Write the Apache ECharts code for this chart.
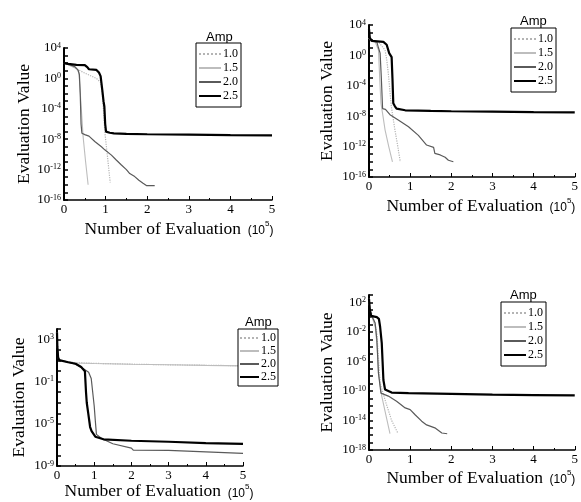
<!DOCTYPE html>
<html>
<head>
<meta charset="utf-8">
<script src="https://cdn.jsdelivr.net/npm/echarts@6/dist/echarts.min.js"></script>
<style>html,body{margin:0;padding:0;background:#fff}#c{width:581px;height:502px}</style>
</head>
<body>
<div id="c"></div>
<script>
// ---------- DATA (x in units of 10^5 evaluations, y = evaluation value) ----------
const ampNames = ['1.0', '1.5', '2.0', '2.5'];
const xTicks = [0, 1, 2, 3, 4, 5];

// Panel A (top-left)
const pA_amp10 = [[0,100],[0.22,30],[0.5,5],[0.78,1],[0.88,0.3],[0.92,1e-2],[0.96,1e-5],[0.98,1e-7],[1.04,1e-10],[1.11,2e-14]];
const pA_amp15 = [[0,100],[0.15,50],[0.3,20],[0.36,5],[0.38,4],[0.44,1e-6],[0.46,2e-8],[0.52,1e-11],[0.58,1e-14]];
const pA_amp20 = [[0,100],[0.15,60],[0.26,35],[0.34,12],[0.37,3],[0.39,1e-2],[0.41,1e-6],[0.43,6e-8],[0.5,4e-8],[0.6,2.5e-8],[0.74,5e-9],[0.9,1e-9],[0.98,4e-10],[1.14,8e-11],[1.25,2e-11],[1.38,4e-12],[1.5,1e-12],[1.58,3e-13],[1.7,1.2e-13],[1.8,4e-14],[1.9,1.6e-14],[1.98,8e-15],[2.18,8e-15]];
const pA_amp25 = [[0,100],[0.1,80],[0.3,60],[0.5,57],[0.56,30],[0.6,16],[0.78,13],[0.84,6],[0.88,2],[0.92,0.03],[0.95,1e-3],[0.97,2e-4],[0.99,1e-6],[1.01,1e-7],[1.1,7e-8],[1.2,6e-8],[1.5,5e-8],[2,4.5e-8],[3,4e-8],[4,3.5e-8],[5,3.2e-8]];

// Panel B (top-right)
const pB_amp10 = [[0,200],[0.05,80],[0.23,60],[0.39,5],[0.43,0.3],[0.47,4e-3],[0.54,2.5e-7],[0.63,1.6e-10],[0.7,1e-12],[0.76,1e-14]];
const pB_amp15 = [[0,200],[0.05,80],[0.15,60],[0.23,5],[0.26,1e-3],[0.29,5e-7],[0.34,1e-8],[0.39,1.6e-10],[0.48,1e-12],[0.57,1e-14]];
const pB_amp20 = [[0,200],[0.05,80],[0.19,60],[0.23,10],[0.27,2],[0.3,1e-3],[0.33,1e-7],[0.4,8e-8],[0.51,1.6e-8],[0.72,3e-9],[0.96,4e-10],[1.2,3e-11],[1.4,1.6e-12],[1.57,8e-13],[1.6,1.3e-13],[1.73,8e-14],[1.85,4e-14],[1.93,1.6e-14],[2.05,1e-14]];
const pB_amp25 = [[0,3000],[0.02,200],[0.07,80],[0.35,60],[0.43,25],[0.49,2],[0.55,0.6],[0.57,1e-3],[0.59,5e-7],[0.63,2e-7],[0.67,1e-7],[0.88,6e-8],[1.5,5e-8],[2,4.5e-8],[3,4e-8],[4,3.5e-8],[5,3.2e-8]];

// Panel C (bottom-left)
const pC_amp10 = [[0,5000],[0.01,200],[0.03,20],[0.06,11],[0.5,6.3],[1,5.5],[2,4.6],[3,4],[4,3.6],[5,3.3]];
const pC_amp15 = [[0,5000],[0.01,200],[0.03,20],[0.06,11],[0.5,6],[1,5.3],[2,4.5],[3,4],[4,3.5],[5,3.2]];
const pC_amp20 = [[0,5000],[0.01,200],[0.03,20],[0.06,11],[0.3,7],[0.5,4.5],[0.7,1.8],[0.85,0.8],[0.92,0.2],[0.96,1e-2],[1.0,5e-4],[1.03,2e-5],[1.06,1e-6],[1.2,4e-7],[1.5,1.3e-7],[2.0,5e-8],[2.05,3.2e-8],[3,3e-8],[4,2.2e-8],[5,1.6e-8]];
const pC_amp25 = [[0,5000],[0.01,200],[0.03,20],[0.06,11],[0.3,7],[0.5,5],[0.65,2.5],[0.7,2],[0.75,1],[0.78,1e-2],[0.8,1e-3],[0.84,1e-4],[0.89,5e-6],[0.93,2e-6],[1.03,6e-7],[1.25,3.4e-7],[2,2.5e-7],[3,2e-7],[4,1.5e-7],[5,1.25e-7]];

// Panel D (bottom-right)
const pD_amp10 = [[0,300],[0.02,10],[0.1,1.2],[0.19,8e-3],[0.27,1.2e-9],[0.39,6e-12],[0.55,1e-14],[0.7,2e-16]];
const pD_amp15 = [[0,300],[0.02,10],[0.07,1.3],[0.15,0.05],[0.2,1e-4],[0.23,2.5e-8],[0.31,2e-11],[0.4,1e-13],[0.51,1.6e-16]];
const pD_amp20 = [[0,300],[0.02,10],[0.07,1.3],[0.1,1],[0.15,0.16],[0.19,1e-3],[0.23,2.5e-8],[0.29,5e-11],[0.47,2e-11],[0.67,4e-12],[0.88,5e-13],[1.0,3e-13],[1.12,6e-14],[1.28,8e-15],[1.4,2.5e-15],[1.6,1e-15],[1.77,2e-16],[1.9,1.6e-16]];
const pD_amp25 = [[0,300],[0.02,10],[0.05,1.5],[0.19,1],[0.24,0.6],[0.27,0.05],[0.31,3e-4],[0.33,1e-6],[0.35,3e-9],[0.39,1.6e-10],[0.55,6e-11],[0.96,5e-11],[2,4e-11],[3,3.2e-11],[4,2.8e-11],[5,2.5e-11]];

// y-axis exponent ranges and labelled exponents
const pA_yExp = [-16, 4];
const pB_yExp = [-16, 4];
const pC_yExp = [-9, 4];
const pD_yExp = [-18, 3];
const pA_yLabels = [-16, -12, -8, -4, 0, 4];
const pB_yLabels = [-16, -12, -8, -4, 0, 4];
const pC_yLabels = [-9, -5, -1, 3];
const pD_yLabels = [-18, -14, -10, -6, -2, 2];

// ---------- LAYOUT / STYLE ----------
const SERIF = '"Liberation Serif", "Times New Roman", serif';
const SANS = '"Liberation Sans", Arial, sans-serif';
const panels = [
  {grid:{left:64, top:48, width:208, height:152}, yExp:pA_yExp, yLab:pA_yLabels, data:[pA_amp10,pA_amp15,pA_amp20,pA_amp25],
   legend:{left:196, top:43}, amp:[218, 31], xName:{gap:20, shift:22}, yGap:31},
  {grid:{left:369, top:25, width:208, height:152}, yExp:pB_yExp, yLab:pB_yLabels, data:[pB_amp10,pB_amp15,pB_amp20,pB_amp25],
   legend:{left:511, top:28}, amp:[532, 15], xName:{gap:20, shift:18}, yGap:33},
  {grid:{left:57, top:329, width:186, height:137}, yExp:pC_yExp, yLab:pC_yLabels, data:[pC_amp10,pC_amp15,pC_amp20,pC_amp25],
   legend:{left:238, top:329, small:true}, amp:[257, 316], xName:{gap:13, shift:18}, yGap:29},
  {grid:{left:369, top:295, width:208, height:155}, yExp:pD_yExp, yLab:pD_yLabels, data:[pD_amp10,pD_amp15,pD_amp20,pD_amp25],
   legend:{left:501, top:302}, amp:[522, 289], xName:{gap:19, shift:18}, yGap:33}
];
const seriesStyle = [
  {color:'#b4b4b4', width:1.2, type:'dotted'},
  {color:'#bdbdbd', width:1.1, type:'solid'},
  {color:'#5a5a5a', width:1.2, type:'solid'},
  {color:'#000000', width:2.2, type:'solid'}
];

const option = {
  animation:false, backgroundColor:'#fff',
  grid:[], xAxis:[], yAxis:[], series:[], legend:[], graphic:[]
};

panels.forEach((p, i) => {
  option.grid.push(Object.assign({containLabel:false}, p.grid));
  option.xAxis.push({
    type:'value', gridIndex:i, min:xTicks[0], max:xTicks[xTicks.length-1], interval:1,
    name:'{a|Number of Evaluation}{b|  (10}{c|5}{b|)}', nameLocation:'middle', nameGap:p.xName.gap,
    nameTextStyle:{padding:[0,0,0,p.xName.shift], rich:{
      a:{fontFamily:SERIF, fontSize:17.5, color:'#000'},
      b:{fontFamily:SANS, fontSize:12, color:'#000', padding:[3,0,0,0]},
      c:{fontFamily:SANS, fontSize:8, color:'#000', verticalAlign:'top', padding:[0,0,0,0]}
    }},
    axisLine:{show:true, onZero:false, lineStyle:{color:'#000', width:1.5}},
    axisTick:{show:true, inside:true, length:4, lineStyle:{color:'#000', width:1}},
    minorTick:{show:true, splitNumber:2, length:2, lineStyle:{color:'#000', width:1}},
    splitLine:{show:false},
    axisLabel:{fontFamily:SERIF, fontSize:13, color:'#000', margin:3}
  });
  const lab = p.yLab;
  option.yAxis.push({
    type:'log', logBase:10, gridIndex:i, min:Math.pow(10,p.yExp[0]), max:Math.pow(10,p.yExp[1]),
    interval:1, splitNumber:p.yExp[1]-p.yExp[0],
    name:'Evaluation Value', nameLocation:'middle', nameRotate:90, nameGap:p.yGap,
    nameTextStyle:{fontFamily:SERIF, fontSize:17.5, color:'#000'},
    axisLine:{show:true, onZero:false, lineStyle:{color:'#000', width:2}},
    axisTick:{show:true, inside:true, length:4, lineStyle:{color:'#000', width:1.5}},
    splitLine:{show:false},
    axisLabel:{
      color:'#000', margin:3, showMinLabel:true, showMaxLabel:true,
      formatter:(v) => {
        const e = Math.round(Math.log10(v));
        if (lab.indexOf(e) < 0) return '';
        return '{b|10}{s|' + e + '}';
      },
      rich:{
        b:{fontFamily:SERIF, fontSize:13, color:'#000'},
        s:{fontFamily:SERIF, fontSize:8, color:'#000', verticalAlign:'top'}
      }
    }
  });
  p.data.forEach((d, k) => {
    const st = seriesStyle[k];
    option.series.push({
      name:ampNames[k], type:'line', xAxisIndex:i, yAxisIndex:i, data:d,
      symbol:'none', showSymbol:false, z: 2 + (k === 3 ? 2 : 0),
      lineStyle:{color:st.color, width:st.width, type:st.type},
      itemStyle:{color:st.color}
    });
  });
  option.legend.push({
    data:ampNames, orient:'vertical', left:p.legend.left, top:p.legend.top,
    borderColor:'#000', borderWidth:1, backgroundColor:'#fff',
    padding: p.legend.small ? [3,2,3,1] : [5,3,5,2],
    itemGap: p.legend.small ? 1 : 2, itemWidth: p.legend.small ? 19 : 22, itemHeight:12,
    itemStyle:{opacity:0}, selectedMode:false,
    textStyle:{fontFamily:SERIF, fontSize:12, color:'#000', padding:[0,0,0,-3]}
  });
  option.graphic.push({
    type:'text', left:p.amp[0]-12, top:p.amp[1],
    style:{text:'Amp', font:'13px ' + SANS, fill:'#000'}
  });
});

const chart = echarts.init(document.getElementById('c'), null, {renderer:'canvas'});
chart.setOption(option);
</script>
</body>
</html>
